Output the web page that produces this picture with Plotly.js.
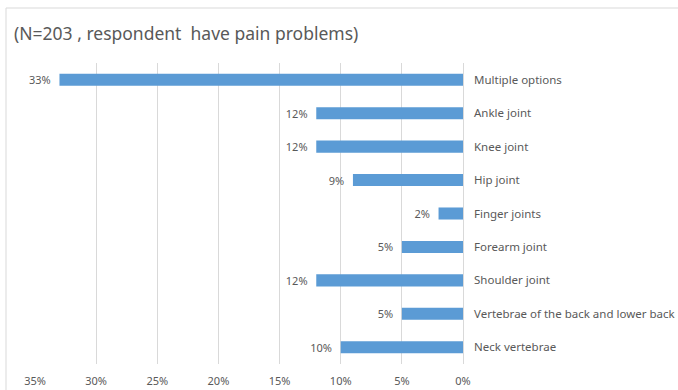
<!DOCTYPE html>
<html>
<head>
<meta charset="utf-8">
<script src="https://cdn.plot.ly/plotly-3.0.1.min.js"></script>
<style>
html,body{margin:0;padding:0;background:#fff;}
#chart{width:678px;height:390px;}
</style>
</head>
<body>
<div id="chart"></div>
<script>
const categories = ["Multiple options","Ankle joint","Knee joint","Hip joint","Finger joints","Forearm joint","Shoulder joint","Vertebrae of the back and lower back","Neck vertebrae"];
const values = [33,12,12,9,2,5,12,5,10];
const tickVals = [0,5,10,15,20,25,30,35];
const tickText = ["0%","5%","10%","15%","20%","25%","30%","35%"];
const titleText = "(N=203 , respondent  have pain problems)";

const FONT = "Noto Sans, Open Sans, sans-serif";
const GREY = "#595959";

const trace = {
  type: "bar",
  orientation: "h",
  x: values,
  y: categories,
  marker: {color: "#5B9BD5"},
  width: 0.36,
  text: values.map(v => v + "%\u00a0\u00a0"),
  textposition: "outside",
  constraintext: "none",
  textfont: {family: FONT, size: 11, color: GREY},
  cliponaxis: false,
  hoverinfo: "none"
};

const layout = {
  width: 678, height: 390,
  margin: {l: 35, r: 215, t: 63, b: 26, pad: 0},
  paper_bgcolor: "#fff",
  plot_bgcolor: "#fff",
  showlegend: false,
  font: {family: FONT, color: GREY},
  title: {text: titleText, x: 14/678, xref: "container", xanchor: "left", y: 1, yref: "container", yanchor: "top",
          pad: {l: 0, t: 28}, font: {family: FONT, size: 17.5, color: GREY}},
  xaxis: {
    range: [35, 0],
    tickvals: tickVals,
    ticktext: tickText,
    showgrid: true, gridcolor: "#D9D9D9", gridwidth: 1,
    zeroline: true, zerolinecolor: "#D9D9D9", zerolinewidth: 1,
    showline: false, ticks: "",
    tickfont: {family: FONT, size: 11, color: GREY},
    ticklabelstandoff: 9,
    fixedrange: true
  },
  yaxis: {
    type: "category",
    autorange: "reversed",
    side: "right",
    showgrid: false, zeroline: false, showline: false, ticks: "",
    tickfont: {family: FONT, size: 11.5, color: GREY},
    ticklabelstandoff: 10,
    fixedrange: true
  },
  shapes: [{
    type: "rect", xref: "paper", yref: "paper",
    x0: (6-35)/428, x1: (690-35)/428,
    y0: (364-400)/301, y1: (364-8)/301,
    line: {color: "#D9D9D9", width: 1}, fillcolor: "rgba(0,0,0,0)", layer: "below"
  }]
};

Plotly.newPlot("chart", [trace], layout, {displayModeBar: false, staticPlot: true});
</script>
</body>
</html>
